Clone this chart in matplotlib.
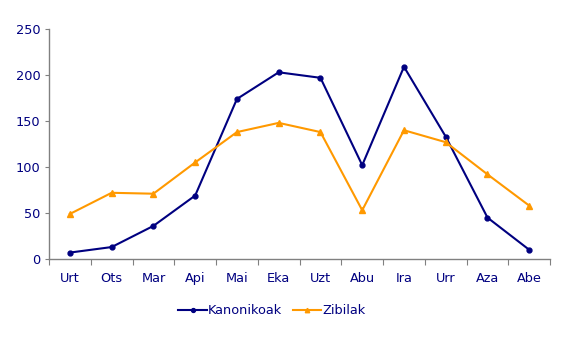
import matplotlib
matplotlib.use("Agg")
import numpy as np
from matplotlib import pyplot as plt

# Data
months = ['Urt', 'Ots', 'Mar', 'Api', 'Mai', 'Eka', 'Uzt', 'Abu', 'Ira', 'Urr', 'Aza', 'Abe']
kanonikoak = [7, 13, 36, 69, 174, 203, 197, 102, 209, 133, 45, 10]
zibilak = [49, 72, 71, 105, 138, 148, 138, 53, 140, 127, 92, 58]

navy = '#000080'
orange = '#FF9900'
grey = '#808080'

fig = plt.figure(figsize=(5.78, 3.46), dpi=100)
ax = fig.add_axes([0.0848, 0.2514, 0.867, 0.6646])

x = np.arange(len(months))
ax.plot(x, kanonikoak, color=navy, lw=1.5, marker='o', ms=3.5, label='Kanonikoak')
ax.plot(x, zibilak, color=orange, lw=1.5, marker='^', ms=4, label='Zibilak')

ax.set_xlim(-0.5, len(months) - 0.5)
ax.set_ylim(0, 250)
ax.set_yticks([0, 50, 100, 150, 200, 250])

# ticks between categories, labels centred
ax.set_xticks(np.arange(-0.5, len(months), 1))
ax.set_xticklabels([])
ax.set_xticks(x, minor=True)
ax.set_xticklabels(months, minor=True)
ax.tick_params(axis='x', which='major', length=4, color=grey, direction='out')
ax.tick_params(axis='x', which='minor', length=0, pad=9, labelcolor=navy, labelsize=9.3)
ax.tick_params(axis='y', length=3, color=grey, direction='out', pad=3, labelcolor=navy, labelsize=9.3)

for side in ['top', 'right']:
    ax.spines[side].set_visible(False)
for side in ['left', 'bottom']:
    ax.spines[side].set_color(grey)
    ax.spines[side].set_linewidth(1)

leg = ax.legend(loc='center', bbox_to_anchor=(272 / 578, 1 - 311 / 346), bbox_transform=fig.transFigure,
                ncol=2, frameon=False, fontsize=9.3, handlelength=2.2, handletextpad=0.1,
                columnspacing=0.8, markerscale=0.8)
for t in leg.get_texts():
    t.set_color(navy)

fig.savefig('out.png', dpi=100)
